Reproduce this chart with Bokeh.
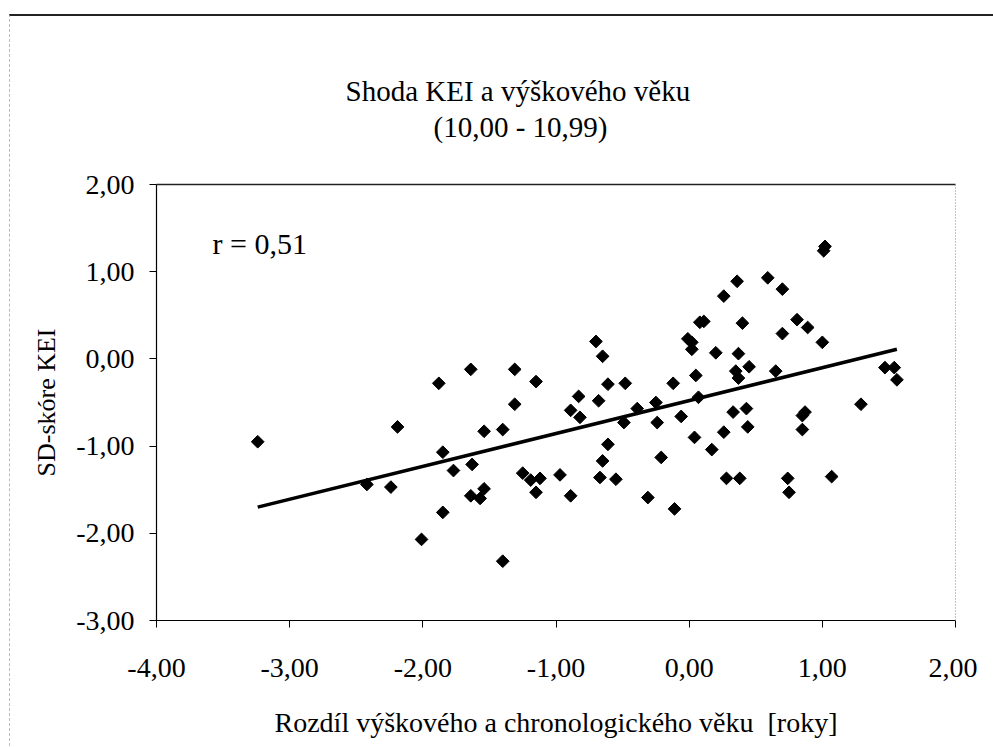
import math
from bokeh.plotting import figure
from bokeh.models import FixedTicker, LinearAxis, Label, Range1d, Title
from bokeh.embed import file_html
from bokeh.resources import INLINE

title_line1 = "Shoda KEI a výškového věku"
title_line2 = "(10,00 - 10,99)"
x_label = "Rozdíl výškového a chronologického věku\u00a0 [roky]"
y_label = "SD-skóre KEI"
r_text = "r = 0,51"

x_ticks = [-4, -3, -2, -1, 0, 1, 2]
x_tick_labels = ["-4,00", "-3,00", "-2,00", "-1,00", "0,00", "1,00", "2,00"]
y_ticks = [-3, -2, -1, 0, 1, 2]
y_tick_labels = ["-3,00", "-2,00", "-1,00", "0,00", "1,00", "2,00"]

# difference between height age and chronological age [years]
height_age_diff = [
    -3.24, -2.19, -2.42, -2.24, -2.01, -1.88, -1.64, -1.31, -1.15, -0.70,
    -0.65, -0.61, -0.48, -0.12, -0.01, 0.02, 0.02, 0.05, 0.08, 1.02,
    1.01, 0.36, 0.59, 0.70, 0.26, 0.11, 0.40, 0.81, 0.89, 0.70,
    1.00, 0.20, 0.37, 0.45, 0.35, 0.37, 0.65, 1.47, 1.54, 1.56,
    0.07, -0.83, -0.68, -0.89, -0.82, -1.31, -0.39, -0.25, -0.49, -0.24,
    -0.06, 0.04, -1.54, -1.40, -1.85, -0.61, -0.65, -0.21, -1.77, -1.63,
    -1.25, -1.19, -1.12, -1.15, -0.97, -0.67, -0.55, -0.89, -1.64, -1.54,
    -1.57, -0.31, -0.11, -1.85, -1.40, 1.29, 0.33, 0.43, 0.44, 0.26,
    0.17, 0.87, 0.85, 0.85, 0.28, 0.38, 0.74, 0.75, 1.07,
]
# SD score of KEI
kei_sd = [
    -0.95, -0.78, -1.44, -1.47, -2.07, -0.28, -0.12, -0.12, -0.26, 0.20,
    0.03, -0.29, -0.28, -0.28, 0.23, 0.19, 0.11, -0.19, 0.42, 1.29,
    1.24, 0.89, 0.93, 0.80, 0.72, 0.43, 0.41, 0.45, 0.36, 0.29,
    0.19, 0.07, 0.06, -0.09, -0.14, -0.22, -0.14, -0.10, -0.10, -0.24,
    -0.44, -0.43, -0.48, -0.59, -0.67, -0.52, -0.57, -0.50, -0.73, -0.73,
    -0.66, -0.90, -0.83, -0.81, -1.07, -0.98, -1.17, -1.13, -1.28, -1.21,
    -1.31, -1.39, -1.37, -1.53, -1.33, -1.36, -1.38, -1.57, -1.57, -1.49,
    -1.60, -1.59, -1.72, -1.76, -2.32, -0.52, -0.61, -0.57, -0.78, -0.84,
    -1.04, -0.61, -0.65, -0.81, -1.37, -1.37, -1.37, -1.53, -1.35,
]

trend_x = [-3.24, 1.56]
trend_y = [-1.70, 0.11]

FONT = "Liberation Serif"

frame_css = (":host::after { content: ''; position: absolute; left: 9px; top: 14px; "
             "width: 990px; height: 760px; border-top: 2px solid #222; "
             "border-left: 1px dashed #bbb; pointer-events: none; z-index: 10; }")

p = figure(width=977, height=745, x_range=Range1d(-4, 2), y_range=Range1d(-3, 2),
           output_backend="svg", toolbar_location=None,
           min_border_left=156, min_border_right=22, min_border_top=184, min_border_bottom=125,
           stylesheets=[frame_css])
p.xgrid.visible = False
p.ygrid.visible = False
p.outline_line_color = None
p.background_fill_color = "white"
p.border_fill_color = "white"

for ax in (p.xaxis[0], p.yaxis[0]):
    ax.axis_line_color = "black"
    ax.axis_line_width = 1.2
    ax.major_tick_line_color = "black"
    ax.major_tick_out = 7
    ax.major_tick_in = 0
    ax.minor_tick_line_color = None
    ax.major_label_text_font = FONT
    ax.major_label_text_font_size = "28px"
    ax.major_label_text_color = "black"
    ax.axis_label_text_font = FONT
    ax.axis_label_text_font_style = "normal"
    ax.axis_label_text_color = "black"

p.xaxis.ticker = FixedTicker(ticks=x_ticks)
p.xaxis.major_label_overrides = dict(zip(x_ticks, x_tick_labels))
p.xaxis.major_label_standoff = 31
p.xaxis.axis_label = x_label
p.xaxis.axis_label_text_font_size = "28px"
p.xaxis.axis_label_standoff = 27

p.yaxis.ticker = FixedTicker(ticks=y_ticks)
p.yaxis.major_label_overrides = dict(zip(y_ticks, y_tick_labels))
p.yaxis.major_label_standoff = 15
p.yaxis.axis_label = y_label
p.yaxis.axis_label_text_font_size = "26px"
p.yaxis.axis_label_standoff = 12

# solid top border of the plot area; its invisible tick length makes room below the titles
top_ax = LinearAxis(ticker=FixedTicker(ticks=[2]), axis_line_color="#222", axis_line_width=1.5,
                    major_tick_line_color=None, minor_tick_line_color=None,
                    major_tick_out=41, major_tick_in=0, major_label_standoff=0,
                    major_label_overrides={2: ""}, major_label_text_font_size="1px")
p.add_layout(top_ax, "above")
p.add_layout(Title(text=title_line2, align="left", offset=277, standoff=2,
                   text_font=FONT, text_font_size="29px", text_font_style="normal",
                   text_color="black"), "above")
p.add_layout(Title(text=title_line1, align="left", offset=189, standoff=2,
                   text_font=FONT, text_font_size="29px", text_font_style="normal",
                   text_color="black"), "above")

# dotted right border of the plot area
right_ax = LinearAxis(ticker=FixedTicker(ticks=[]), axis_line_color="#888", axis_line_width=1,
                      axis_line_dash="1 2", major_tick_line_color=None, minor_tick_line_color=None,
                      major_tick_out=0, major_label_standoff=0, major_label_text_font_size="0px")
p.add_layout(right_ax, "right")

p.line(trend_x, trend_y, line_width=3.5, line_color="black")
p.scatter(height_age_diff, kei_sd, marker="square", size=9, angle=math.pi / 4,
          fill_color="black", line_color="black", line_width=1)

p.add_layout(Label(x=56, y=377, x_units="screen", y_units="screen", text=r_text,
                   text_font=FONT, text_font_size="30px", text_color="black",
                   text_align="left", text_baseline="alphabetic"))

open("out.html", "w").write(file_html(p, INLINE))
